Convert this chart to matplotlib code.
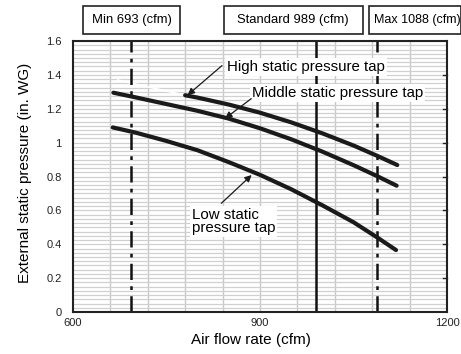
import matplotlib
matplotlib.use("Agg")
import matplotlib.pyplot as plt
import numpy as np

plt.rcParams['font.family'] = ['Liberation Sans', 'DejaVu Sans']

# Data
high_x = [780, 800, 850, 900, 950, 1000, 1050, 1088, 1120]
high_y = [1.28, 1.266, 1.225, 1.177, 1.12, 1.055, 0.983, 0.922, 0.868]
high_hidden_x = [672, 780]
high_hidden_y = [1.37, 1.28]
mid_x = [665, 700, 750, 800, 850, 900, 950, 1000, 1050, 1088, 1119]
mid_y = [1.295, 1.268, 1.228, 1.188, 1.142, 1.085, 1.020, 0.947, 0.867, 0.802, 0.746]
low_x = [664, 700, 750, 800, 850, 900, 950, 1000, 1050, 1088, 1118]
low_y = [1.09, 1.06, 1.01, 0.955, 0.885, 0.81, 0.725, 0.63, 0.53, 0.44, 0.366]

ref_values = [693, 989, 1088]
ref_labels = ["Min 693 (cfm)", "Standard 989 (cfm)", "Max 1088 (cfm)"]
xticks = [600, 900, 1200]
yticks = [0, 0.2, 0.4, 0.6, 0.8, 1.0, 1.2, 1.4, 1.6]
ytick_labels = ["0", "0.2", "0.4", "0.6", "0.8", "1", "1.2", "1.4", "1.6"]

fig = plt.figure(figsize=(4.61, 3.54), dpi=100)
ax = fig.add_axes([0.158, 0.1186, 0.812, 0.7654])
ax.set_xlim(600, 1200)
ax.set_ylim(0, 1.6)

# grid
for xv in np.arange(660, 1200, 60):
    ax.axvline(xv, color='#c8c8c8', lw=1.0, zorder=0)
for yv in np.arange(0.025, 1.6, 0.025):
    ax.axhline(yv, color='#d0d0d0', lw=0.9, zorder=0)

# reference lines
dd = (0, (6.5, 2.5, 1.5, 2.5))
ax.axvline(ref_values[0], color='#111111', lw=1.8, linestyle=dd, zorder=2)
ax.axvline(ref_values[1], color='#111111', lw=1.8, zorder=2)
ax.axvline(ref_values[2], color='#111111', lw=1.8, linestyle=dd, zorder=2)

# curves
ax.plot(high_hidden_x, high_hidden_y, color='white', lw=1.2, zorder=1)
for xs, ys in [(high_x, high_y), (mid_x, mid_y), (low_x, low_y)]:
    ax.plot(xs, ys, color='#1a1a1a', lw=3.0, solid_capstyle='round',
            solid_joinstyle='round', zorder=3)

# annotations
bb = dict(boxstyle='square,pad=0.12', fc='white', ec='none')
ax.text(847, 1.446, "High static pressure tap", fontsize=10.8, ha='left', va='center',
        bbox=bb, zorder=5)
ax.text(887, 1.293, "Middle static pressure tap", fontsize=10.8, ha='left', va='center',
        bbox=bb, zorder=5)
ax.text(791, 0.535, "Low static\npressure tap", fontsize=10.8, ha='left', va='center',
        bbox=bb, linespacing=0.95, zorder=5)

akw = dict(arrowstyle='-|>', color='#1a1a1a', lw=0.9, mutation_scale=10,
           shrinkA=0, shrinkB=0)
ax.annotate('', xy=(784, 1.281), xytext=(839, 1.455), arrowprops=akw, zorder=6)
ax.annotate('', xy=(844, 1.143), xytext=(886, 1.26), arrowprops=akw, zorder=6)
ax.annotate('', xy=(886.6, 0.809), xytext=(838, 0.642), arrowprops=akw, zorder=6)

ax.set_xticks(xticks)
ax.set_xticklabels([str(v) for v in xticks])
ax.set_yticks(yticks)
ax.set_yticklabels(ytick_labels)
ax.tick_params(axis='both', length=0, labelsize=8, colors='#222222')
ax.tick_params(axis='y', pad=8)
ax.tick_params(axis='x', pad=4)
# right ticks
for yv in yticks[1:-1]:
    ax.plot([1, 0.99], [yv, yv], transform=ax.get_yaxis_transform(), color='#222222',
            lw=1.0, zorder=4, clip_on=False)

for s in ax.spines.values():
    s.set_color('#222222')
    s.set_linewidth(1.5)

ax.set_xlabel("Air flow rate (cfm)", fontsize=11)
ax.xaxis.set_label_coords(0.477, -0.078)
ax.set_ylabel("External static pressure (in. WG)", fontsize=11)
ax.yaxis.set_label_coords(-0.11, 0.515)

# top boxes (figure pixel coords)
box_specs = [(83, 180), (224, 363), (369, 461)]
for (x0, x1), lab in zip(box_specs, ref_labels):
    fig.patches.append(plt.Rectangle((x0 / 461, 1 - 34 / 354), (x1 - x0) / 461, 28 / 354,
                                     transform=fig.transFigure, fc='white', ec='#222222', lw=1.2))
fig.text(131.5 / 461, 1 - 20 / 354, ref_labels[0], ha='center', va='center', fontsize=9.4)
fig.text(293 / 461, 1 - 20 / 354, ref_labels[1], ha='center', va='center', fontsize=9.4)
fig.text(374 / 461, 1 - 20 / 354, ref_labels[2], ha='left', va='center', fontsize=9.0)

fig.savefig("out.png", dpi=100)
